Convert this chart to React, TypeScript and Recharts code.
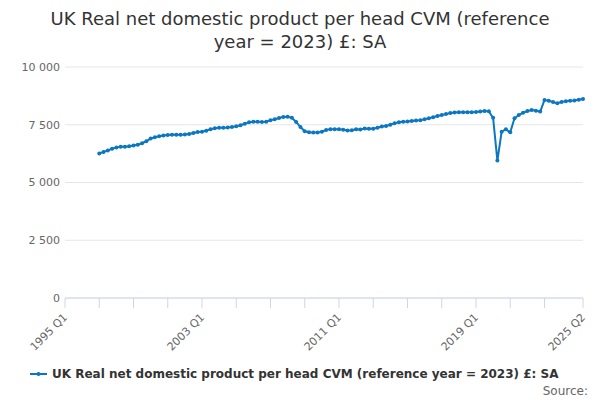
import React from "react";
import { LineChart, Line, XAxis, YAxis, CartesianGrid, Legend } from "recharts";

const SERIES_NAME = "UK Real net domestic product per head CVM (reference year = 2023) £: SA";

// quarters 1995 Q1 .. 2025 Q2
const years = Array.from({ length: 31 }, (_, i) => 1995 + i);
const quarters = years.flatMap((y) =>
  ["Q1", "Q2", "Q3", "Q4"].map((q) => `${y} ${q}`)
).slice(0, 122);

// values from 1997 Q1 onwards (earlier quarters have no data)
const ndpPerHead = [
  6260, 6320, 6390, 6460, 6510, 6550, 6550, 6570,
  6600, 6630, 6700, 6790, 6900, 6960, 7000, 7030,
  7055, 7065, 7070, 7070, 7080, 7100, 7140, 7190,
  7200, 7240, 7310, 7350, 7365, 7370, 7380, 7400,
  7430, 7480, 7540, 7610, 7630, 7625, 7620, 7630,
  7700, 7740, 7790, 7840, 7850, 7800, 7620, 7400,
  7220, 7175, 7165, 7160, 7200, 7270, 7310, 7305,
  7300, 7280, 7255, 7260, 7300, 7290, 7340, 7330,
  7325, 7370, 7420, 7450, 7500, 7570, 7610, 7630,
  7640, 7665, 7685, 7700, 7740, 7780, 7830, 7880,
  7920, 7960, 8010, 8030, 8040, 8040, 8040, 8045,
  8050, 8070, 8090, 8080, 7800, 5950, 7200, 7300,
  7170, 7780, 7920, 8020, 8090, 8140, 8110, 8070,
  8570, 8540, 8480, 8430, 8490, 8520, 8540, 8550,
  8580, 8610,
];
const firstIndex = 8;

const yTicks = [0, 2500, 5000, 7500, 10000];
const tickIdx = [0, 8, 16, 24, 32, 40, 48, 56, 64, 72, 80, 88, 96, 104, 112, 121];
const labelIdx = [0, 32, 64, 96, 121];

const data = quarters.map((q, i) => ({
  q,
  v: i >= firstIndex ? ndpPerHead[i - firstIndex] ?? null : null,
}));

const BLUE = "#0a77c0";
const fmt = (n: number) => String(n).replace(/\B(?=(\d{3})+(?!\d))/g, " ");

const XTick = (props: any) => {
  const { x, y, payload } = props;
  const i = quarters.indexOf(payload.value);
  if (!labelIdx.includes(i)) return null;
  return (
    <text
      x={x + 3}
      y={y + 8}
      transform={`rotate(-45, ${x + 3}, ${y + 8})`}
      textAnchor="end"
      fontSize={11}
      fill="#666"
      fontFamily="DejaVu Sans"
    >
      {payload.value}
    </text>
  );
};

const LegendContent = () => (
  <div style={{ display: "flex", alignItems: "center", paddingLeft: 30, paddingTop: 9 }}>
    <svg width={18} height={10} style={{ marginRight: 4 }}>
      <line x1={0} y1={5} x2={17} y2={5} stroke={BLUE} strokeWidth={2} />
      <circle cx={8.5} cy={5} r={2} fill={BLUE} />
    </svg>
    <span style={{ fontSize: 12, fontWeight: "bold", color: "#333", fontFamily: "DejaVu Sans" }}>
      {SERIES_NAME}
    </span>
  </div>
);

export default function App() {
  return (
    <div
      style={{
        position: "absolute",
        left: 0,
        top: 0,
        width: 600,
        height: 400,
        background: "#fff",
        fontFamily: "DejaVu Sans",
      }}
    >
      <div
        style={{
          position: "absolute",
          top: 7,
          left: 0,
          width: 600,
          textAlign: "center",
          fontSize: 18,
          lineHeight: "23px",
          color: "#333",
        }}
      >
        UK Real net domestic product per head CVM (reference
        <br />
        year = 2023) £: SA
      </div>
      <div style={{ position: "absolute", top: 0, left: 0 }}>
        <LineChart width={600} height={400} data={data} margin={{ top: 67, right: 17, left: 0, bottom: 0 }}>
          <CartesianGrid vertical={false} stroke="#e6e6e6" />
          <XAxis
            dataKey="q"
            ticks={tickIdx.map((i) => quarters[i])}
            interval={0}
            tick={<XTick />}
            tickSize={10}
            height={60}
            axisLine={{ stroke: "#ccd6eb" }}
            tickLine={{ stroke: "#ccd6eb" }}
          />
          <YAxis
            domain={[0, 10000]}
            ticks={yTicks}
            tickFormatter={fmt}
            width={65}
            axisLine={false}
            tickLine={false}
            tickSize={0}
            tickMargin={5}
            tick={{ fontSize: 11, fill: "#666", fontFamily: "DejaVu Sans" }}
          />
          <Legend verticalAlign="bottom" height={42} content={<LegendContent />} />
          <Line
            type="linear"
            dataKey="v"
            name={SERIES_NAME}
            stroke={BLUE}
            strokeWidth={2}
            dot={{ r: 2, fill: BLUE, stroke: BLUE, strokeWidth: 0 }}
            isAnimationActive={false}
          />
        </LineChart>
      </div>
      <div
        style={{
          position: "absolute",
          right: 12,
          top: 384,
          fontSize: 12,
          color: "#666",
        }}
      >
        Source:
      </div>
    </div>
  );
}
